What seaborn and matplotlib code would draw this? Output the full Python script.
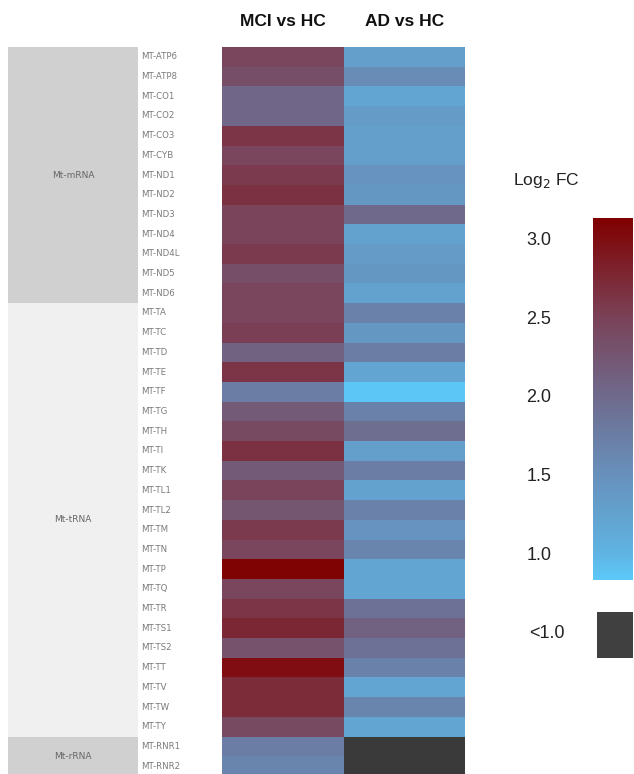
import numpy as np
import pandas as pd
import matplotlib
matplotlib.use("Agg")
import matplotlib.pyplot as plt
from matplotlib.colors import LinearSegmentedColormap
import seaborn as sns

# ---------------- data ----------------
genes = ["MT-ATP6", "MT-ATP8", "MT-CO1", "MT-CO2", "MT-CO3", "MT-CYB", "MT-ND1",
         "MT-ND2", "MT-ND3", "MT-ND4", "MT-ND4L", "MT-ND5", "MT-ND6",
         "MT-TA", "MT-TC", "MT-TD", "MT-TE", "MT-TF", "MT-TG", "MT-TH", "MT-TI",
         "MT-TK", "MT-TL1", "MT-TL2", "MT-TM", "MT-TN", "MT-TP", "MT-TQ", "MT-TR",
         "MT-TS1", "MT-TS2", "MT-TT", "MT-TV", "MT-TW", "MT-TY",
         "MT-RNR1", "MT-RNR2"]
mci_vs_hc = [2.45, 2.35, 2.05, 2.05, 2.62, 2.45, 2.58, 2.66, 2.48, 2.48, 2.58, 2.35, 2.45,
             2.45, 2.52, 2.1, 2.62, 1.75, 2.2, 2.4, 2.66, 2.2, 2.48, 2.25, 2.58, 2.45,
             3.1, 2.45, 2.62, 2.76, 2.3, 3.0, 2.72, 2.72, 2.4,
             1.75, 1.65]
ad_vs_hc = [1.3, 1.55, 1.2, 1.35, 1.3, 1.3, 1.45, 1.4, 2.0, 1.25, 1.35, 1.4, 1.25,
            1.7, 1.4, 1.75, 1.2, 0.85, 1.7, 1.95, 1.3, 1.75, 1.25, 1.7, 1.45, 1.65,
            1.2, 1.2, 1.9, 2.1, 1.9, 1.7, 1.2, 1.65, 1.2,
            np.nan, np.nan]  # < 1.0
columns = ["MCI vs HC", "AD vs HC"]
group_names = ["Mt-mRNA", "Mt-tRNA", "Mt-rRNA"]
group_sizes = [13, 22, 2]
group_colors = ["#D0D0D0", "#F0F0F0", "#D0D0D0"]
cbar_ticks = [1.0, 1.5, 2.0, 2.5, 3.0]

df = pd.DataFrame({columns[0]: mci_vs_hc, columns[1]: ad_vs_hc}, index=genes)

# ---------------- style ----------------
sns.set_style("white")
plt.rcParams["font.family"] = ["Liberation Sans", "DejaVu Sans"]

W, H = 634, 774
fig = plt.figure(figsize=(W / 100, H / 100), dpi=100)

def fx(px):
    return px / W

def fy(px):
    return 1 - px / H

vmin, vmax = 0.83, 3.13
nodes = [(0.83, "#5CC9F9"), (1.0, "#5FB3E2"), (1.5, "#6790BB"),
         (2.0, "#6F6A8C"), (2.5, "#7A4258"), (3.13, "#800000")]
cmap = LinearSegmentedColormap.from_list(
    "l2fc", [((v - vmin) / (vmax - vmin), c) for v, c in nodes])
cmap.set_bad("#3A3A3A")

top_px, bot_px = 47, 776
ax = fig.add_axes([fx(222), fy(bot_px), fx(465) - fx(222), fy(top_px) - fy(bot_px)])
cax = fig.add_axes([fx(593), fy(580), fx(633) - fx(593), fy(218) - fy(580)])

sns.heatmap(df, ax=ax, cmap=cmap, vmin=vmin, vmax=vmax, cbar=True, cbar_ax=cax,
            linewidths=0, xticklabels=True, yticklabels=True)

# column headers on top
ax.xaxis.tick_top()
ax.tick_params(axis="x", length=0, pad=13)
for t in ax.get_xticklabels():
    t.set_fontsize(12.5)
    t.set_fontweight("bold")
    t.set_color("#111111")
    t.set_rotation(0)

# gene labels left aligned in the gap
ax.tick_params(axis="y", length=0, pad=58)
for t in ax.get_yticklabels():
    t.set_fontsize(6.2)
    t.set_color("#7A7A7A")
    t.set_rotation(0)
    t.set_horizontalalignment("left")
    t.set_fontfamily("DejaVu Sans")
ax.set_xlabel("")
ax.set_ylabel("")

# group annotation column
gax = fig.add_axes([fx(8), fy(bot_px), fx(138) - fx(8), fy(top_px) - fy(bot_px)])
starts = np.concatenate([[0], np.cumsum(group_sizes)[:-1]])
gax.barh(starts, [1] * len(group_sizes), height=group_sizes, left=0, align="edge",
         color=group_colors, edgecolor="none")
for s, n, name in zip(starts, group_sizes, group_names):
    gax.text(0.5, s + n / 2, name, ha="center", va="center", fontsize=6.5,
             color="#666666", family="DejaVu Sans")
gax.set_xlim(0, 1)
gax.set_ylim(sum(group_sizes), 0)
gax.axis("off")

# colorbar
cbar = ax.collections[0].colorbar
cbar.outline.set_visible(False)
cbar.set_ticks(cbar_ticks)
cbar.set_ticklabels([f"{v:.1f}" for v in cbar_ticks])
cax.yaxis.set_ticks_position("left")
cax.tick_params(length=0, pad=30, labelsize=13, labelcolor="#222222")
fig.text(fx(513), fy(180), r"Log$_2$ FC", fontsize=12.5, ha="left", va="center",
         color="#222222")

# "<1.0" legend box
sax = fig.add_axes([fx(597), fy(658), fx(633) - fx(597), fy(612) - fy(658)])
sax.set_facecolor("#404040")
sax.set_xticks([])
sax.set_yticks([])
for sp in sax.spines.values():
    sp.set_visible(False)
fig.text(fx(547), fy(633), "<1.0", fontsize=13, ha="center", va="center",
         color="#222222")

fig.savefig("out.png", dpi=100)
